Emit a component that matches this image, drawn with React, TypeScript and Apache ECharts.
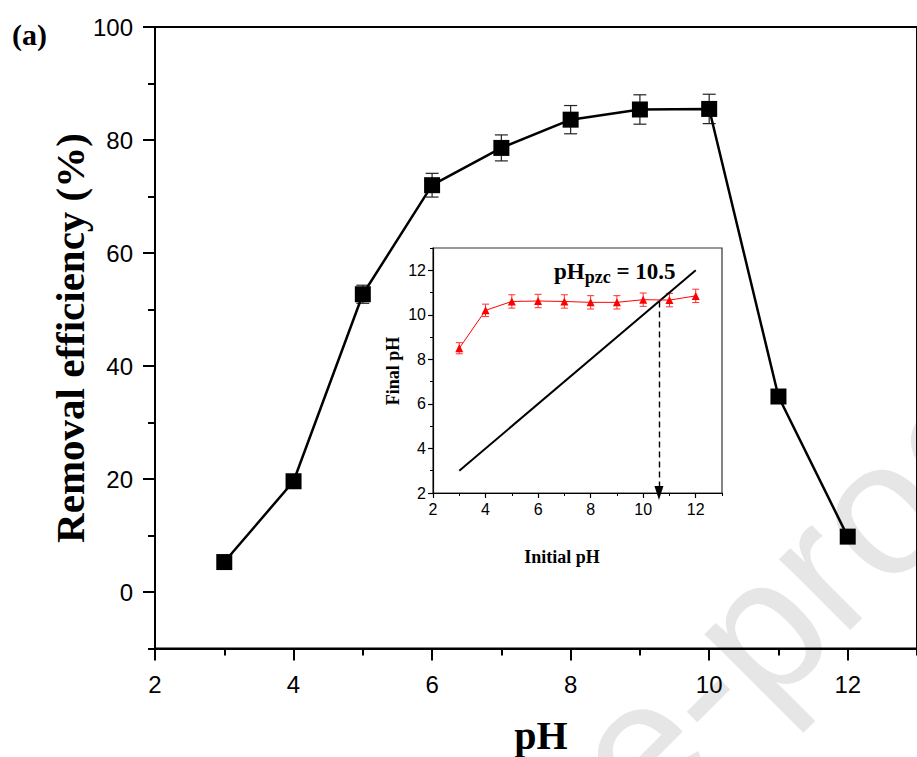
import React, { useEffect, useRef } from "react";
import * as echarts from "echarts";

// Main plot: removal efficiency vs pH
const phValues = [3, 4, 5, 6, 7, 8, 9, 10, 11, 12];
const removalEff = [5.3, 19.6, 52.7, 72.0, 78.6, 83.6, 85.4, 85.5, 34.6, 9.8];
const removalErr = [1.0, 1.0, 1.6, 2.1, 2.3, 2.5, 2.6, 2.6, 1.0, 1.0];

// Inset: final pH vs initial pH
const initialPh = [3, 4, 5, 6, 7, 8, 9, 10, 11, 12];
const finalPh = [8.5, 10.2, 10.6, 10.62, 10.6, 10.56, 10.56, 10.68, 10.66, 10.85];
const finalErr = [0.25, 0.28, 0.3, 0.3, 0.3, 0.3, 0.3, 0.3, 0.3, 0.3];
const diagonal = [[3, 3], [12, 12]];
const pzcValue = 10.6;

const mainYTicks = [0, 20, 40, 60, 80, 100];
const mainXTicks = [2, 4, 6, 8, 10, 12];
const insetTicks = [2, 4, 6, 8, 10, 12];

const SERIF = "'Liberation Serif', 'Times New Roman', serif";
const SANS = "'Liberation Sans', Arial, sans-serif";

function errorBars(xs: number[], ys: number[], es: number[], xi: number, yi: number, color: string, cap: number, lw: number) {
  return {
    type: "custom",
    xAxisIndex: xi,
    yAxisIndex: yi,
    z: 1,
    silent: true,
    data: xs.map((x, i) => [x, ys[i] - es[i], ys[i] + es[i]]),
    renderItem: (params: any, api: any) => {
      const lo = api.coord([api.value(0), api.value(1)]);
      const hi = api.coord([api.value(0), api.value(2)]);
      const st = { stroke: color, lineWidth: lw };
      return {
        type: "group",
        children: [
          { type: "line", shape: { x1: lo[0], y1: lo[1], x2: hi[0], y2: hi[1] }, style: st },
          { type: "line", shape: { x1: lo[0] - cap, y1: lo[1], x2: lo[0] + cap, y2: lo[1] }, style: st },
          { type: "line", shape: { x1: hi[0] - cap, y1: hi[1], x2: hi[0] + cap, y2: hi[1] }, style: st },
        ],
      };
    },
  };
}

function xAx(grid: number, major: boolean, ticks: number[], lw: number, len: number, fs: number, margin: number) {
  return {
    gridIndex: grid, type: "value", min: 2, max: 13, position: "bottom",
    ...(major ? {} : { interval: 1 }),
    axisLine: { show: major, onZero: false, lineStyle: { color: "#000", width: lw } },
    axisTick: major
      ? { show: true, customValues: ticks, length: len, lineStyle: { color: "#000", width: lw } }
      : { show: true, length: len, lineStyle: { color: "#000", width: lw } },
    axisLabel: major
      ? { customValues: ticks, color: "#000", fontSize: fs, fontFamily: SANS, margin }
      : { show: false },
    splitLine: { show: false },
  };
}

function yAx(grid: number, major: boolean, min: number, max: number, minorInterval: number, ticks: number[], lw: number, len: number, fs: number, margin: number) {
  return {
    gridIndex: grid, type: "value", min, max, position: "left",
    ...(major ? {} : { interval: minorInterval }),
    axisLine: { show: major, onZero: false, lineStyle: { color: "#000", width: lw } },
    axisTick: major
      ? { show: true, customValues: ticks, length: len, lineStyle: { color: "#000", width: lw } }
      : { show: true, length: len, lineStyle: { color: "#000", width: lw } },
    axisLabel: major
      ? { customValues: ticks, color: "#000", fontSize: fs, fontFamily: SANS, margin }
      : { show: false },
    splitLine: { show: false },
  };
}

export default function App() {
  const ref = useRef<HTMLDivElement>(null);
  useEffect(() => {
    document.body.style.margin = "0";
    const chart = echarts.init(ref.current!, null, { renderer: "svg" });
    const black = "#000";
    const mainGrid = { left: 155, top: 27, width: 766, height: 621.5, show: true, borderColor: black, borderWidth: 2, backgroundColor: "transparent" };
    const insetGrid = { left: 433, top: 248, width: 289, height: 245, show: true, borderColor: "#333", borderWidth: 1.2, backgroundColor: "#fff" };

    const option: any = {
      animation: false,
      backgroundColor: "#fff",
      grid: [mainGrid, insetGrid],
      xAxis: [
        xAx(0, true, mainXTicks, 2, 12, 24, 24),
        xAx(0, false, mainXTicks, 2, 7, 24, 24),
        xAx(1, true, insetTicks, 1.2, 5, 16, 8),
        xAx(1, false, insetTicks, 1, 3, 16, 8),
      ],
      yAxis: [
        yAx(0, true, -10, 100, 10, mainYTicks, 2, 12, 24, 22),
        yAx(0, false, -10, 100, 10, mainYTicks, 2, 7, 24, 22),
        yAx(1, true, 2, 13, 1, insetTicks, 1.2, 5, 16, 7),
        yAx(1, false, 2, 13, 1, insetTicks, 1, 3, 16, 7),
      ],
      series: [
        errorBars(phValues, removalEff, removalErr, 0, 0, "#222", 6.5, 1.2),
        {
          type: "line", xAxisIndex: 0, yAxisIndex: 0, z: 3,
          data: phValues.map((x, i) => [x, removalEff[i]]),
          symbol: "rect", symbolSize: 16,
          lineStyle: { color: black, width: 2.5 },
          itemStyle: { color: black },
        },
        {
          type: "line", xAxisIndex: 2, yAxisIndex: 2, z: 3,
          data: diagonal,
          symbol: "none",
          lineStyle: { color: black, width: 2 },
          markLine: {
            silent: true,
            symbol: ["none", "triangle"],
            symbolSize: [9, 14],
            lineStyle: { color: black, type: [6, 4], width: 1.4 },
            label: { show: false },
            data: [[{ coord: [pzcValue, pzcValue] }, { coord: [pzcValue, 2] }]],
          },
        },
        errorBars(initialPh, finalPh, finalErr, 2, 2, "#ff3030", 3.5, 1),
        {
          type: "line", xAxisIndex: 2, yAxisIndex: 2, z: 4,
          data: initialPh.map((x, i) => [x, finalPh[i]]),
          symbol: "triangle", symbolSize: 8,
          lineStyle: { color: "#ff0000", width: 1 },
          itemStyle: { color: "#ff0000" },
        },
      ],
      graphic: [
        {
          type: "text", z: -10, x: 507, y: 880, rotation: Math.PI / 4,
          style: { text: "Journal Pre-proof", fontSize: 190, fontFamily: SANS, fill: "#e6e6e6", textAlign: "center", textVerticalAlign: "middle" },
        },
        {
          type: "text", x: 12, y: 34,
          style: { text: "(a)", fontSize: 30, fontWeight: "bold", fontFamily: SERIF, fill: black, textVerticalAlign: "middle" },
        },
        {
          type: "text", x: 70, y: 338, rotation: Math.PI / 2,
          style: { text: "Removal efficiency (%)", fontSize: 41, fontWeight: "bold", fontFamily: SERIF, fill: black, textAlign: "center", textVerticalAlign: "middle" },
        },
        {
          type: "text", x: 541, y: 735,
          style: { text: "pH", fontSize: 40, fontWeight: "bold", fontFamily: SERIF, fill: black, textAlign: "center", textVerticalAlign: "middle" },
        },
        {
          type: "text", x: 393, y: 371, rotation: Math.PI / 2,
          style: { text: "Final pH", fontSize: 18, fontWeight: "bold", fontFamily: SERIF, fill: black, textAlign: "center", textVerticalAlign: "middle" },
        },
        {
          type: "text", x: 562, y: 557,
          style: { text: "Initial pH", fontSize: 18, fontWeight: "bold", fontFamily: SERIF, fill: black, textAlign: "center", textVerticalAlign: "middle" },
        },
        {
          type: "text", x: 554, y: 271, z: 10,
          style: {
            text: "{a|pH}{b|pzc}{a| = 10.5}",
            rich: {
              a: { fontSize: 23, fontWeight: "bold", fontFamily: SERIF, fill: black, color: black },
              b: { fontSize: 18, fontWeight: "bold", fontFamily: SERIF, fill: black, color: black, padding: [12, 0, 0, 0] },
            },
            textVerticalAlign: "middle",
          },
        },
      ],
    };
    chart.setOption(option);
    return () => chart.dispose();
  }, []);
  return <div ref={ref} style={{ position: "absolute", left: 0, top: 0, width: 917, height: 757 }} />;
}
